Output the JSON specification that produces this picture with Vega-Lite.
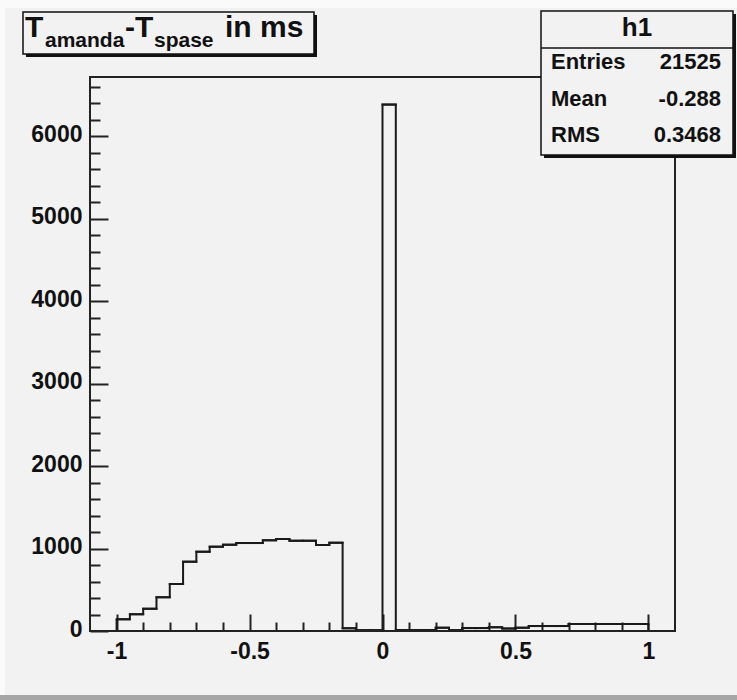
{
  "$schema": "https://vega.github.io/schema/vega-lite/v6.json",
  "width": 585,
  "height": 554,
  "autosize": {"type": "none"},
  "padding": {"left": 90, "top": 77, "right": 62, "bottom": 69},
  "background": "#f2f2f2",
  "config": {
    "view": {"stroke": null},
    "axis": {
      "domain": false,
      "grid": false,
      "labelFont": "Liberation Sans",
      "labelFontWeight": "bold",
      "labelFontSize": 23,
      "labelColor": "#111111",
      "tickColor": "#222222",
      "tickWidth": 2,
      "labelOverlap": false,
      "labelFlush": false
    }
  },
  "resolve": {"axis": {"x": "independent", "y": "independent"}},
  "datasets": {
    "h1": [
      {"lo": -1.0, "hi": -0.95, "n": 142},
      {"lo": -0.95, "hi": -0.9, "n": 203},
      {"lo": -0.9, "hi": -0.85, "n": 270},
      {"lo": -0.85, "hi": -0.8, "n": 409},
      {"lo": -0.8, "hi": -0.75, "n": 570},
      {"lo": -0.75, "hi": -0.7, "n": 841},
      {"lo": -0.7, "hi": -0.65, "n": 962},
      {"lo": -0.65, "hi": -0.6, "n": 1023},
      {"lo": -0.6, "hi": -0.55, "n": 1047},
      {"lo": -0.55, "hi": -0.5, "n": 1067},
      {"lo": -0.5, "hi": -0.45, "n": 1067},
      {"lo": -0.45, "hi": -0.4, "n": 1100},
      {"lo": -0.4, "hi": -0.35, "n": 1116},
      {"lo": -0.35, "hi": -0.3, "n": 1095},
      {"lo": -0.3, "hi": -0.25, "n": 1095},
      {"lo": -0.25, "hi": -0.2, "n": 1043},
      {"lo": -0.2, "hi": -0.15, "n": 1071},
      {"lo": -0.15, "hi": -0.1, "n": 33},
      {"lo": -0.1, "hi": -0.05, "n": 10},
      {"lo": -0.05, "hi": 0.0, "n": 10},
      {"lo": 0.0, "hi": 0.05, "n": 6385},
      {"lo": 0.05, "hi": 0.1, "n": 12},
      {"lo": 0.1, "hi": 0.15, "n": 12},
      {"lo": 0.15, "hi": 0.2, "n": 12},
      {"lo": 0.2, "hi": 0.25, "n": 40},
      {"lo": 0.25, "hi": 0.3, "n": 10},
      {"lo": 0.3, "hi": 0.35, "n": 35},
      {"lo": 0.35, "hi": 0.4, "n": 35},
      {"lo": 0.4, "hi": 0.45, "n": 45},
      {"lo": 0.45, "hi": 0.5, "n": 30},
      {"lo": 0.5, "hi": 0.55, "n": 40},
      {"lo": 0.55, "hi": 0.6, "n": 60},
      {"lo": 0.6, "hi": 0.65, "n": 60},
      {"lo": 0.65, "hi": 0.7, "n": 60},
      {"lo": 0.7, "hi": 0.75, "n": 85},
      {"lo": 0.75, "hi": 0.8, "n": 85},
      {"lo": 0.8, "hi": 0.85, "n": 85},
      {"lo": 0.85, "hi": 0.9, "n": 85},
      {"lo": 0.9, "hi": 0.95, "n": 85},
      {"lo": 0.95, "hi": 1.0, "n": 85}
    ],
    "one": [{}]
  },
  "layer": [
    {
      "data": {"name": "one"},
      "mark": {"type": "rect", "fill": "#fafafa", "clip": false},
      "encoding": {
        "x": {"datum": -1.43846, "type": "quantitative", "axis": null},
        "x2": {"datum": 1.33333},
        "y": {"datum": 7654.0, "type": "quantitative", "axis": null},
        "y2": {"datum": 7557.0}
      }
    },
    {
      "data": {"name": "one"},
      "mark": {"type": "rect", "fill": "#fafafa", "clip": false},
      "encoding": {
        "x": {"datum": -1.43846, "type": "quantitative", "axis": null},
        "x2": {"datum": -1.41966},
        "y": {"datum": 7654.0, "type": "quantitative", "axis": null},
        "y2": {"datum": -837.0}
      }
    },
    {
      "data": {"name": "one"},
      "mark": {"type": "rect", "fill": "#a6a6a6", "clip": false},
      "encoding": {
        "x": {"datum": -1.43846, "type": "quantitative", "axis": null},
        "x2": {"datum": 1.33333},
        "y": {"datum": -776.0, "type": "quantitative", "axis": null},
        "y2": {"datum": -837.0}
      }
    },
    {
      "data": {"name": "h1"},
      "mark": {"type": "line", "interpolate": "step-after", "stroke": "#1a1a1a", "strokeWidth": 2, "strokeJoin": "miter"},
      "encoding": {
        "x": {
          "field": "lo",
          "type": "quantitative",
          "scale": {"domain": [-1.1, 1.1], "nice": false, "zero": false},
          "axis": {
            "orient": "bottom",
            "title": null,
            "values": [-1, -0.5, 0, 0.5, 1],
            "tickSize": -17,
            "labelExpr": "(datum.value < -0.001 ? '-' : '') + format(abs(datum.value), '~g')",
            "labelPadding": 26,
            "labelBaseline": "top"
          }
        },
        "y": {
          "field": "n",
          "type": "quantitative",
          "scale": {"domain": [0, 6720], "nice": false, "zero": false},
          "axis": {
            "orient": "left",
            "title": null,
            "values": [0, 1000, 2000, 3000, 4000, 5000, 6000],
            "tickSize": -18,
            "labelExpr": "format(datum.value, 'd')",
            "labelPadding": 26,
            "labelAlign": "right",
            "labelBaseline": "middle",
            "labelOffset": -2
          }
        }
      }
    },
    {
      "data": {"name": "h1"},
      "mark": {"type": "rule", "stroke": "#1a1a1a", "strokeWidth": 2, "strokeCap": "square"},
      "encoding": {
        "x": {
          "field": "lo",
          "type": "quantitative",
          "axis": {
            "orient": "bottom",
            "title": null,
            "values": [-0.9, -0.8, -0.7, -0.6, -0.4, -0.3, -0.2, -0.1, 0.1, 0.2, 0.3, 0.4, 0.6, 0.7, 0.8, 0.9],
            "tickSize": -9,
            "labels": false
          }
        },
        "x2": {"field": "hi"},
        "y": {
          "field": "n",
          "type": "quantitative",
          "axis": {
            "orient": "left",
            "title": null,
            "values": [200, 400, 600, 800, 1200, 1400, 1600, 1800, 2200, 2400, 2600, 2800, 3200, 3400, 3600, 3800, 4200, 4400, 4600, 4800, 5200, 5400, 5600, 5800, 6200, 6400, 6600],
            "tickSize": -10,
            "labels": false
          }
        }
      }
    },
    {
      "data": {"name": "h1"},
      "transform": [{"filter": "datum.lo < -0.99"}],
      "mark": {"type": "rule", "stroke": "#1a1a1a", "strokeWidth": 2},
      "encoding": {
        "x": {"field": "lo", "type": "quantitative", "axis": null},
        "y": {"field": "n", "type": "quantitative", "axis": null},
        "y2": {"datum": 0}
      }
    },
    {
      "data": {"name": "h1"},
      "transform": [{"filter": "datum.hi > 0.99"}],
      "mark": {"type": "rule", "stroke": "#1a1a1a", "strokeWidth": 2},
      "encoding": {
        "x": {"field": "hi", "type": "quantitative", "axis": null},
        "y": {"field": "n", "type": "quantitative", "axis": null},
        "y2": {"datum": 0}
      }
    },
    {
      "data": {"name": "one"},
      "mark": {"type": "rect", "filled": false, "stroke": "#222222", "strokeWidth": 2, "clip": false},
      "encoding": {
        "x": {"datum": -1.1, "type": "quantitative", "axis": null},
        "x2": {"datum": 1.1},
        "y": {"datum": 0, "type": "quantitative", "axis": null},
        "y2": {"datum": 6720}
      }
    },
    {
      "data": {"name": "one"},
      "mark": {"type": "rect", "fill": "#111111", "clip": false},
      "encoding": {
        "x": {"datum": -1.34068, "type": "quantitative", "axis": null},
        "x2": {"datum": -0.24632},
        "y": {"datum": 7472.1, "type": "quantitative", "axis": null},
        "y2": {"datum": 6962.6}
      }
    },
    {
      "data": {"name": "one"},
      "mark": {"type": "rect", "fill": "#f2f2f2", "stroke": "#111111", "strokeWidth": 1.5, "clip": false},
      "encoding": {
        "x": {"datum": -1.35196, "type": "quantitative", "axis": null},
        "x2": {"datum": -0.25761},
        "y": {"datum": 7508.5, "type": "quantitative", "axis": null},
        "y2": {"datum": 6999.0}
      }
    },
    {
      "data": {"name": "one"},
      "mark": {"type": "text", "text": "T", "font": "Liberation Sans", "fontWeight": "bold", "fontSize": 30, "align": "left", "baseline": "alphabetic", "fill": "#111111", "clip": false},
      "encoding": {"x": {"datum": -1.34444, "type": "quantitative", "axis": null}, "y": {"datum": 7205.2, "type": "quantitative", "axis": null}}
    },
    {
      "data": {"name": "one"},
      "mark": {"type": "text", "text": "amanda", "font": "Liberation Sans", "fontWeight": "bold", "fontSize": 21, "align": "left", "baseline": "alphabetic", "fill": "#111111", "clip": false},
      "encoding": {"x": {"datum": -1.26923, "type": "quantitative", "axis": null}, "y": {"datum": 7083.9, "type": "quantitative", "axis": null}}
    },
    {
      "data": {"name": "one"},
      "mark": {"type": "text", "text": "-T", "font": "Liberation Sans", "fontWeight": "bold", "fontSize": 30, "align": "left", "baseline": "alphabetic", "fill": "#111111", "clip": false},
      "encoding": {"x": {"datum": -0.96838, "type": "quantitative", "axis": null}, "y": {"datum": 7205.2, "type": "quantitative", "axis": null}}
    },
    {
      "data": {"name": "one"},
      "mark": {"type": "text", "text": "spase", "font": "Liberation Sans", "fontWeight": "bold", "fontSize": 21, "align": "left", "baseline": "alphabetic", "fill": "#111111", "clip": false},
      "encoding": {"x": {"datum": -0.85932, "type": "quantitative", "axis": null}, "y": {"datum": 7083.9, "type": "quantitative", "axis": null}}
    },
    {
      "data": {"name": "one"},
      "mark": {"type": "text", "text": "in ms", "font": "Liberation Sans", "fontWeight": "bold", "fontSize": 30, "align": "left", "baseline": "alphabetic", "fill": "#111111", "clip": false},
      "encoding": {"x": {"datum": -0.59231, "type": "quantitative", "axis": null}, "y": {"datum": 7205.2, "type": "quantitative", "axis": null}}
    },
    {
      "data": {"name": "one"},
      "mark": {"type": "rect", "fill": "#111111", "clip": false},
      "encoding": {
        "x": {"datum": 0.60735, "type": "quantitative", "axis": null},
        "x2": {"datum": 1.3294},
        "y": {"datum": 7484.2, "type": "quantitative", "axis": null},
        "y2": {"datum": 5737.5}
      }
    },
    {
      "data": {"name": "one"},
      "mark": {"type": "rect", "fill": "#f2f2f2", "stroke": "#111111", "strokeWidth": 1.5, "clip": false},
      "encoding": {
        "x": {"datum": 0.59607, "type": "quantitative", "axis": null},
        "x2": {"datum": 1.31812},
        "y": {"datum": 7520.6, "type": "quantitative", "axis": null},
        "y2": {"datum": 5773.9}
      }
    },
    {
      "data": {"name": "one"},
      "mark": {"type": "rule", "stroke": "#111111", "strokeWidth": 1.5, "clip": false},
      "encoding": {
        "x": {"datum": 0.59607, "type": "quantitative", "axis": null},
        "x2": {"datum": 1.31812},
        "y": {"datum": 7071.8, "type": "quantitative", "axis": null}
      }
    },
    {
      "data": {"name": "one"},
      "mark": {"type": "text", "text": "h1", "font": "Liberation Sans", "fontWeight": "bold", "fontSize": 26, "align": "center", "baseline": "alphabetic", "fill": "#111111", "clip": false},
      "encoding": {"x": {"datum": 0.95709, "type": "quantitative", "axis": null}, "y": {"datum": 7217.4, "type": "quantitative", "axis": null}}
    },
    {
      "data": {"name": "one"},
      "mark": {"type": "text", "text": "Entries", "font": "Liberation Sans", "fontWeight": "bold", "fontSize": 22, "align": "left", "baseline": "alphabetic", "fill": "#111111", "clip": false},
      "encoding": {"x": {"datum": 0.63368, "type": "quantitative", "axis": null}, "y": {"datum": 6817.1, "type": "quantitative", "axis": null}}
    },
    {
      "data": {"name": "one"},
      "mark": {"type": "text", "text": "21525", "font": "Liberation Sans", "fontWeight": "bold", "fontSize": 22, "align": "right", "baseline": "alphabetic", "fill": "#111111", "clip": false},
      "encoding": {"x": {"datum": 1.27299, "type": "quantitative", "axis": null}, "y": {"datum": 6817.1, "type": "quantitative", "axis": null}}
    },
    {
      "data": {"name": "one"},
      "mark": {"type": "text", "text": "Mean", "font": "Liberation Sans", "fontWeight": "bold", "fontSize": 22, "align": "left", "baseline": "alphabetic", "fill": "#111111", "clip": false},
      "encoding": {"x": {"datum": 0.63368, "type": "quantitative", "axis": null}, "y": {"datum": 6368.3, "type": "quantitative", "axis": null}}
    },
    {
      "data": {"name": "one"},
      "mark": {"type": "text", "text": "-0.288", "font": "Liberation Sans", "fontWeight": "bold", "fontSize": 22, "align": "right", "baseline": "alphabetic", "fill": "#111111", "clip": false},
      "encoding": {"x": {"datum": 1.27299, "type": "quantitative", "axis": null}, "y": {"datum": 6368.3, "type": "quantitative", "axis": null}}
    },
    {
      "data": {"name": "one"},
      "mark": {"type": "text", "text": "RMS", "font": "Liberation Sans", "fontWeight": "bold", "fontSize": 22, "align": "left", "baseline": "alphabetic", "fill": "#111111", "clip": false},
      "encoding": {"x": {"datum": 0.63368, "type": "quantitative", "axis": null}, "y": {"datum": 5931.6, "type": "quantitative", "axis": null}}
    },
    {
      "data": {"name": "one"},
      "mark": {"type": "text", "text": "0.3468", "font": "Liberation Sans", "fontWeight": "bold", "fontSize": 22, "align": "right", "baseline": "alphabetic", "fill": "#111111", "clip": false},
      "encoding": {"x": {"datum": 1.27299, "type": "quantitative", "axis": null}, "y": {"datum": 5931.6, "type": "quantitative", "axis": null}}
    }
  ]
}
